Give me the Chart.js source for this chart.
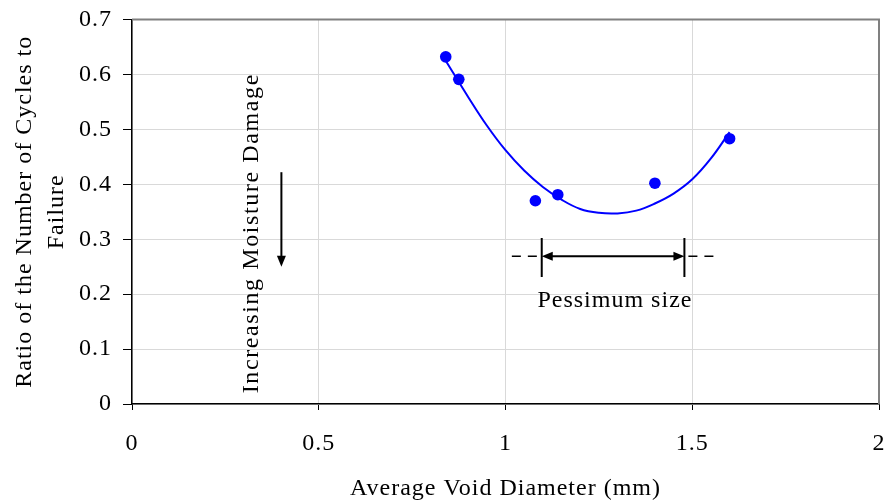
<!DOCTYPE html>
<html lang="en">
<head>
  <meta charset="UTF-8" />
  <title>Ratio of cycles to failure vs void diameter</title>
  <script src="https://cdn.jsdelivr.net/npm/chart.js"></script>
  <style>
    html, body { margin: 0; padding: 0; background: #fff; }
    .caixa { width: 888px; height: 504px; position: relative; }
  </style>
</head>
<body>
  <div class="caixa">
    <canvas id="grafico"></canvas>
  </div>

  <script>
    // measured points
    const voidDiameter = [0.84, 0.875, 1.08, 1.14, 1.40, 1.60];
    const cycleRatio = [0.632, 0.591, 0.370, 0.381, 0.402, 0.483];

    // trend curve
    const trendX = [0.84, 0.90, 0.95, 1.00, 1.05, 1.10, 1.15, 1.20, 1.25, 1.30, 1.35, 1.40, 1.45, 1.50, 1.55, 1.60];
    const trendY = [0.625, 0.559, 0.507, 0.462, 0.425, 0.395, 0.372, 0.355, 0.348, 0.347, 0.352, 0.365, 0.383, 0.409, 0.447, 0.495];

    const xTicks = [0, 0.5, 1, 1.5, 2];
    const yTicks = [0, 0.1, 0.2, 0.3, 0.4, 0.5, 0.6, 0.7];

    const fonte = 'Liberation Serif, Times New Roman, serif';

    function pares(xs, ys) {
      return xs.map((x, i) => ({ x: x, y: ys[i] }));
    }

    function seta(ctx, x, y, ang) {
      // filled arrow head, tip at (x, y)
      ctx.save();
      ctx.translate(x, y);
      ctx.rotate(ang);
      ctx.beginPath();
      ctx.moveTo(0, 0);
      ctx.lineTo(-11, -4.5);
      ctx.lineTo(-11, 4.5);
      ctx.closePath();
      ctx.fill();
      ctx.restore();
    }

    const anotacoes = {
      id: 'anotacoes',
      beforeDraw(chart) {
        chart.ctx.letterSpacing = '1px';
      },
      afterDraw(chart) {
        const ctx = chart.ctx;
        const a = chart.chartArea;
        const sx = chart.scales.x;
        const sy = chart.scales.y;
        ctx.save();

        // grey frame top and right
        ctx.strokeStyle = '#808080';
        ctx.lineWidth = 2;
        ctx.beginPath();
        ctx.moveTo(a.left, a.top);
        ctx.lineTo(a.right, a.top);
        ctx.lineTo(a.right, a.bottom);
        ctx.stroke();

        ctx.fillStyle = '#000';
        ctx.strokeStyle = '#000';
        ctx.font = '24px ' + fonte;

        // moisture damage arrow + text
        const ax = sx.getPixelForValue(0.4);
        const ay1 = sy.getPixelForValue(0.422);
        const ay2 = sy.getPixelForValue(0.25);
        ctx.lineWidth = 2;
        ctx.beginPath();
        ctx.moveTo(ax, ay1);
        ctx.lineTo(ax, ay2 - 8);
        ctx.stroke();
        seta(ctx, ax, ay2, Math.PI / 2);

        ctx.save();
        ctx.letterSpacing = '1.6px';
        ctx.translate(sx.getPixelForValue(0.337), sy.getPixelForValue(0.311));
        ctx.rotate(-Math.PI / 2);
        ctx.textAlign = 'center';
        ctx.textBaseline = 'alphabetic';
        ctx.fillText('Increasing Moisture Damage', 0, 0);
        ctx.restore();

        // pessimum size marker
        const px1 = sx.getPixelForValue(1.097);
        const px2 = sx.getPixelForValue(1.479);
        const py = sy.getPixelForValue(0.269);
        const pTop = sy.getPixelForValue(0.302);
        const pBot = sy.getPixelForValue(0.231);

        ctx.lineWidth = 2;
        ctx.beginPath();
        ctx.moveTo(px1, pTop); ctx.lineTo(px1, pBot);
        ctx.moveTo(px2, pTop); ctx.lineTo(px2, pBot);
        ctx.moveTo(px1 + 8, py); ctx.lineTo(px2 - 8, py);
        ctx.stroke();
        seta(ctx, px1, py, Math.PI);
        seta(ctx, px2, py, 0);

        ctx.lineWidth = 1.5;
        ctx.setLineDash([9, 7]);
        ctx.beginPath();
        ctx.moveTo(sx.getPixelForValue(1.017), py); ctx.lineTo(px1, py);
        ctx.moveTo(px2 + 4, py); ctx.lineTo(sx.getPixelForValue(1.561), py);
        ctx.stroke();
        ctx.setLineDash([]);

        ctx.letterSpacing = '1px';
        ctx.textAlign = 'center';
        ctx.textBaseline = 'alphabetic';
        ctx.fillText('Pessimum size', sx.getPixelForValue(1.293), sy.getPixelForValue(0.177));

        ctx.restore();
      }
    };

    const ctx = document.getElementById('grafico').getContext('2d');
    const grafico = new Chart(ctx, {
      type: 'scatter',
      data: {
        datasets: [
          {
            label: 'pontos',
            data: pares(voidDiameter, cycleRatio),
            backgroundColor: '#0000ff',
            borderColor: '#0000ff',
            pointRadius: 5.8,
            pointBorderWidth: 0,
            showLine: false
          },
          {
            label: 'tendencia',
            data: pares(trendX, trendY),
            borderColor: '#0000ff',
            borderWidth: 2,
            pointRadius: 0,
            showLine: true,
            tension: 0.4
          }
        ]
      },
      options: {
        responsive: true,
        maintainAspectRatio: false,
        animation: false,
        layout: {
          padding: { top: 19.5, right: 9, left: 0, bottom: 0 }
        },
        plugins: {
          legend: { display: false },
          tooltip: { enabled: false }
        },
        scales: {
          x: {
            type: 'linear',
            min: 0,
            max: 2,
            afterBuildTicks: (s) => { s.ticks = xTicks.map(v => ({ value: v })); },
            afterFit: (s) => { s.height = 100; s.paddingRight = 0; },
            grid: { color: '#d9d9d9', tickColor: '#000', tickLength: 6, lineWidth: 1 },
            border: { color: '#000', width: 1.5 },
            ticks: {
              color: '#000',
              padding: 19,
              maxRotation: 0,
              callback: (v) => String(v),
              font: { family: fonte, size: 24, lineHeight: 1.2 }
            },
            title: {
              display: true,
              text: 'Average Void Diameter (mm)',
              color: '#000',
              padding: { top: 0, bottom: 1 },
              font: { family: fonte, size: 24, lineHeight: 1.2 }
            }
          },
          y: {
            type: 'linear',
            min: 0,
            max: 0.7,
            afterBuildTicks: (s) => { s.ticks = yTicks.map(v => ({ value: v })); },
            afterFit: (s) => { s.width = 132; s.paddingTop = 0; },
            grid: { color: '#d9d9d9', tickColor: '#000', tickLength: 9, lineWidth: 1 },
            border: { color: '#000', width: 1.5 },
            ticks: {
              color: '#000',
              padding: 11,
              callback: (v) => String(v),
              font: { family: fonte, size: 24, lineHeight: 1.2 }
            },
            title: {
              display: true,
              text: ['Ratio of the Number of Cycles to', 'Failure'],
              color: '#000',
              padding: { top: 9, bottom: 0 },
              font: { family: fonte, size: 24, lineHeight: 1.33 }
            }
          }
        }
      },
      plugins: [anotacoes]
    });
  </script>
</body>
</html>
